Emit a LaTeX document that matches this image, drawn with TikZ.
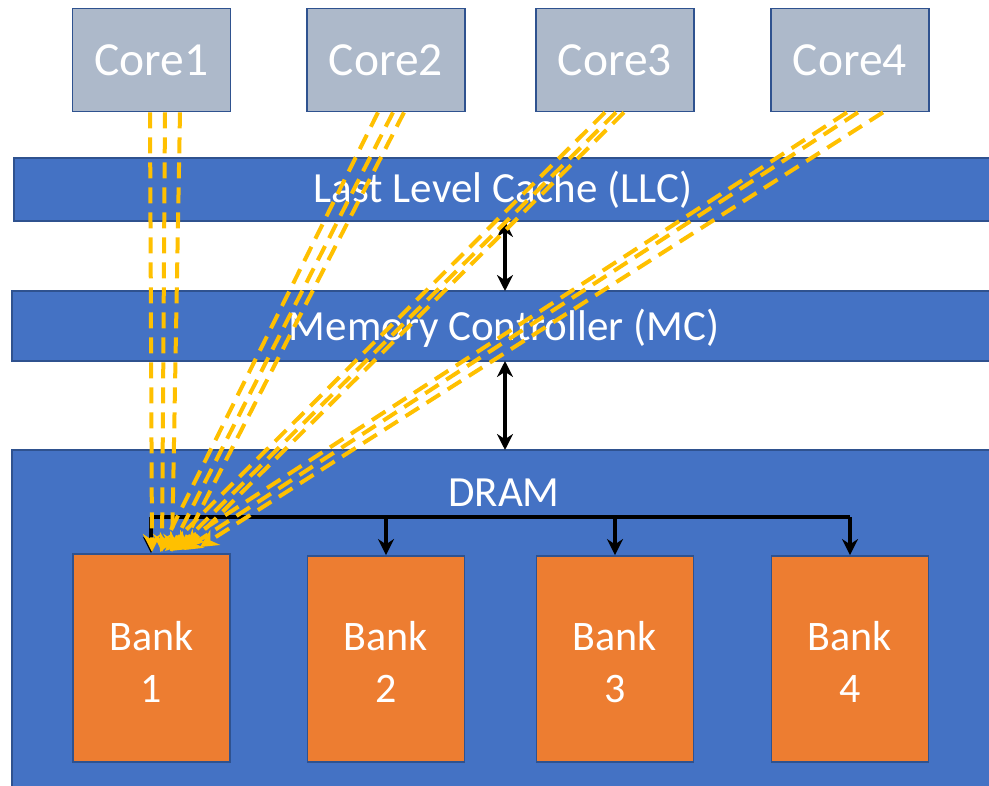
\documentclass[tikz,border=0pt]{standalone}
\usepackage{fontspec}
\setmainfont{Carlito}
\usetikzlibrary{arrows.meta}
\definecolor{corefill}{HTML}{ADB9CA}
\definecolor{blueedge}{HTML}{2F528F}
\definecolor{barfill}{HTML}{4472C4}
\definecolor{bankfill}{HTML}{ED7D31}
\definecolor{ylw}{HTML}{FFC000}
\tikzset{
  corebox/.style={draw=blueedge, line width=1.8pt, fill=corefill, text=white, font=\fontsize{47.5}{50}\selectfont},
  barbox/.style={draw=blueedge, line width=1.8pt, fill=barfill},
  bankbox/.style={draw=blueedge, line width=1.8pt, fill=bankfill},
  wtext/.style={text=white, font=\fontsize{43}{50}\selectfont, inner sep=0pt},
  bankt/.style={text=white, font=\fontsize{42}{52}\selectfont, align=center, inner sep=0pt},
  yarr/.style={draw=ylw, line width=4pt, dash pattern=on 16pt off 9pt, -{Stealth[length=18pt,width=18pt,fill=ylw]}},
  barr/.style={draw=black, line width=4pt},
  btip/.style={-{Stealth[length=16pt,width=16pt]}},
}
\begin{document}
\begin{tikzpicture}[x=1pt,y=-1pt]
\useasboundingbox (0,0) rectangle (989,786);
% bars
\path[barbox] (14,158) rectangle (995,221);
\path[barbox] (12,291) rectangle (995,361);
\path[barbox] (12,450) rectangle (995,795);
\node[wtext] (llc) at (503,190) {Last Level Cache (LLC)};
\node[wtext] (mc) at (504,328) {Memory Controller (MC)};
\node[wtext] (dram) at (504,493) {DRAM};
\coordinate (llcb) at (505,221);
\coordinate (mct) at (505,291);
\coordinate (mcb) at (505,361);
\coordinate (dramt) at (505,450);
% cores
\node[corebox, minimum width=158pt, minimum height=103pt] (c1) at (151.5,60) {Core1};
\node[corebox, minimum width=158pt, minimum height=103pt] (c2) at (386,60) {Core2};
\node[corebox, minimum width=158pt, minimum height=103pt] (c3) at (615,60) {Core3};
\node[corebox, minimum width=158pt, minimum height=103pt] (c4) at (850,60) {Core4};
% banks
\node[bankbox, minimum width=157pt, minimum height=208pt] (b1) at (151.5,658) {};
\node[bankbox, minimum width=157pt, minimum height=206pt] (b2) at (386,659) {};
\node[bankbox, minimum width=157pt, minimum height=206pt] (b3) at (615,659) {};
\node[bankbox, minimum width=157pt, minimum height=206pt] (b4) at (850,659) {};
\node[bankt] (t1) at (151.5,662) {Bank\\1};
\node[bankt] (t2) at (386,662) {Bank\\2};
\node[bankt] (t3) at (615,662) {Bank\\3};
\node[bankt] (t4) at (850,662) {Bank\\4};
% black arrows
\draw[barr, {Stealth[length=16pt,width=16pt]}-{Stealth[length=16pt,width=16pt]}] (llcb) -- (mct);
\draw[barr, {Stealth[length=16pt,width=16pt]}-{Stealth[length=16pt,width=16pt]}] (mcb) -- (dramt);
\coordinate (busl) at (151,517);
\coordinate (bus2) at (386,517);
\coordinate (bus3) at (615,517);
\coordinate (busr) at (850,517);
\draw[barr] (busl) -- (busr);
\draw[barr, btip] (busl) -- (b1.north -| busl);
\draw[barr, btip] (bus2) -- (b2.north);
\draw[barr, btip] (bus3) -- (b3.north);
\draw[barr, btip] (busr) -- (b4.north);
% yellow dashed arrows
\draw[yarr] (c1.south -| 150,0) -- (152,552);
\draw[yarr] (c1.south -| 165,0) -- (162,552);
\draw[yarr] (c1.south -| 180,0) -- (172,552);
\draw[yarr] (c2.south -| 378,0) -- (160,552);
\draw[yarr] (c2.south -| 393,0) -- (170,551);
\draw[yarr] (c2.south -| 404,0) -- (180,550);
\draw[yarr] (c3.south -| 605,0) -- (165,551);
\draw[yarr] (c3.south -| 616,0) -- (176,550);
\draw[yarr] (c3.south -| 624,0) -- (186,548);
\draw[yarr] (c4.south -| 847,0) -- (170,551);
\draw[yarr] (c4.south -| 858,0) -- (184,550);
\draw[yarr] (c4.south -| 883,0) -- (200,547);
\end{tikzpicture}
\end{document}
